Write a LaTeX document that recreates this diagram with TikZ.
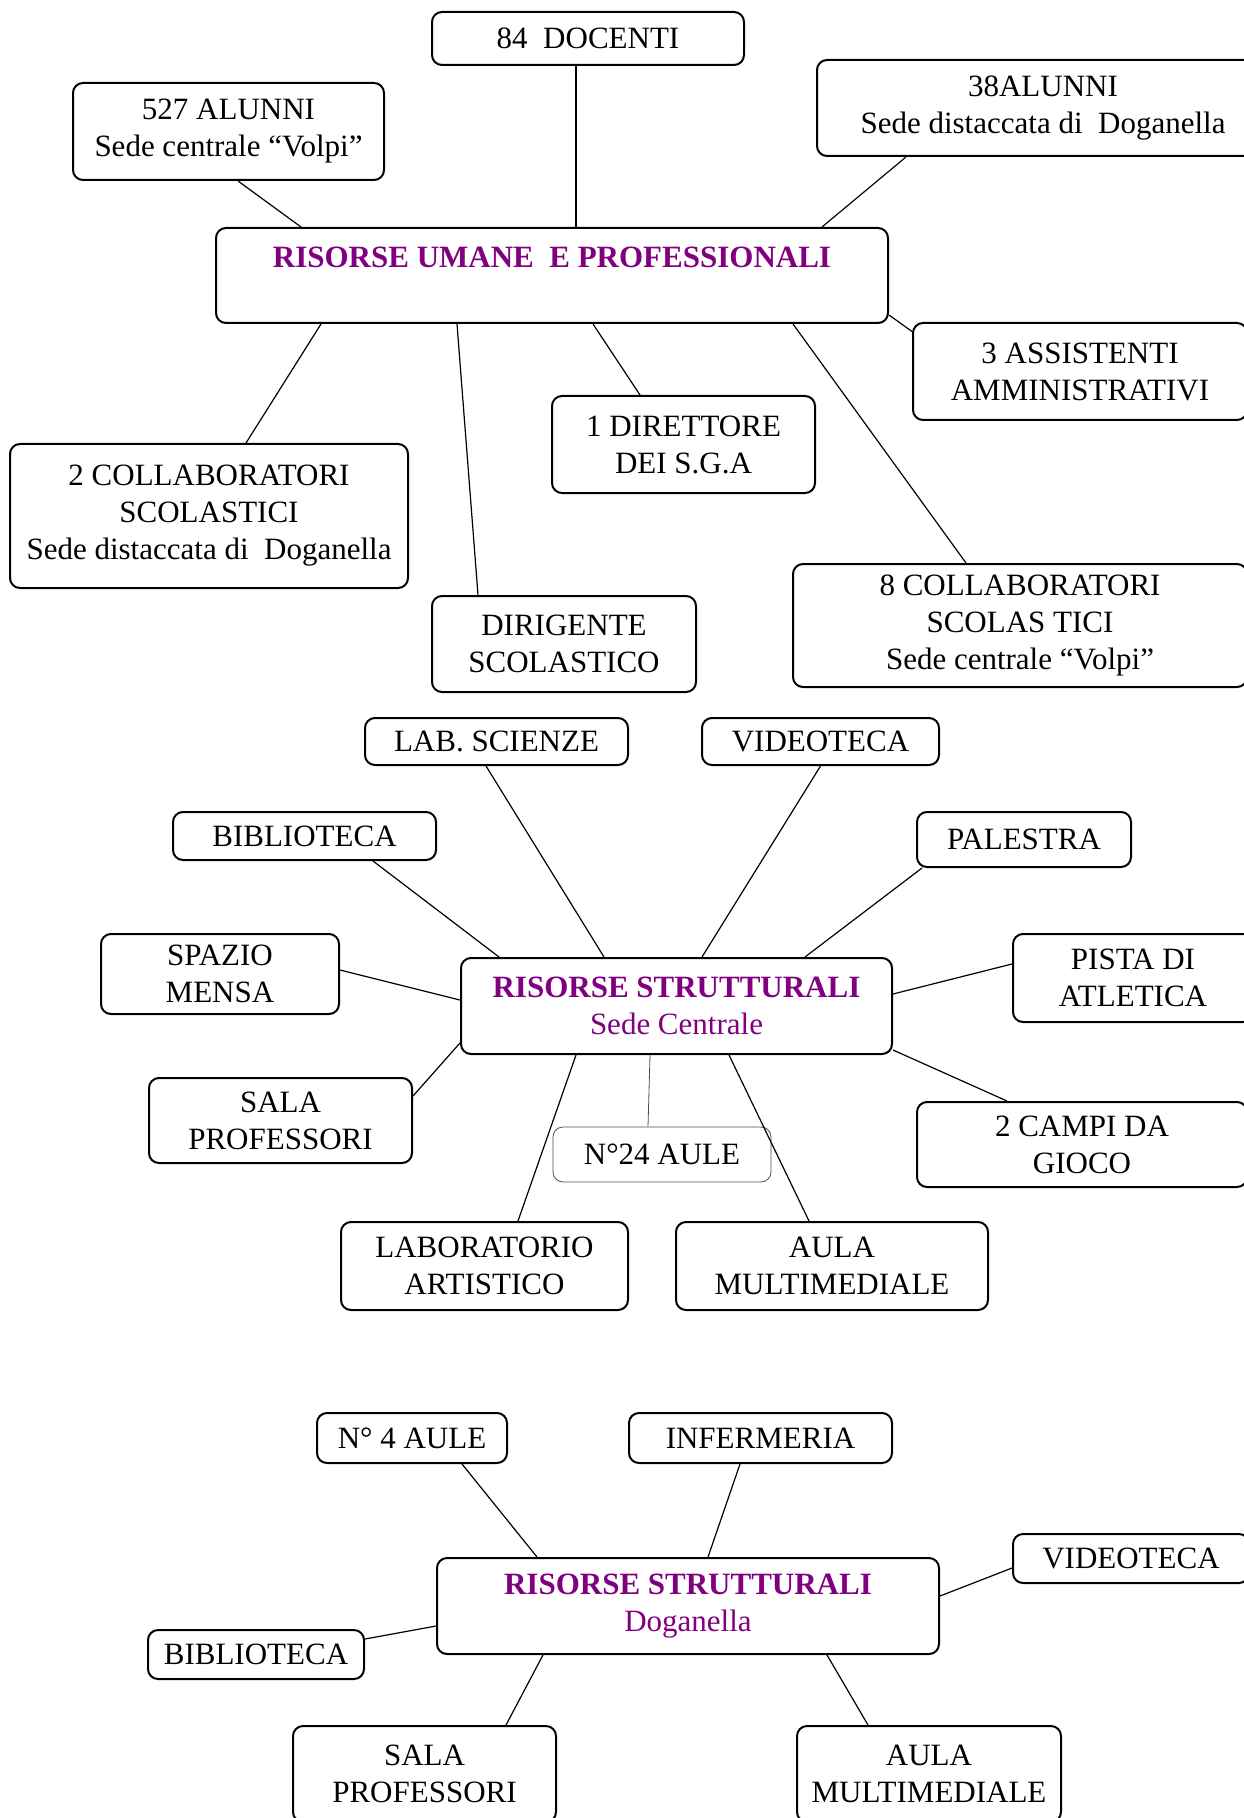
\documentclass[tikz,border=0pt]{standalone}
\usepackage{fontspec}
\setmainfont{Liberation Serif}
\usepackage{tikz}
\usetikzlibrary{shapes,backgrounds}
\definecolor{Plum}{RGB}{128,0,128}

\begin{document}
\begin{tikzpicture}[x=0.5pt, y=-0.5pt]
			\tikzstyle{Box}		= [draw, rounded corners=5pt, line width=1pt, inner sep=0pt, align=center, font=\fontsize{15.5}{18.5}\selectfont]
			\tikzstyle{Hub}		= [text=Plum]
			\tikzstyle{Thin}	= [line width=0.4pt, draw=black!70]
			\tikzstyle{Link}	= [line width=0.6pt]

			\useasboundingbox (0,0) rectangle (1243,1818);

			% risorse umane
			\node (rum) at (552, 275.5) [Box][Hub][minimum width=336pt, minimum height=47.5pt] {\textbf{RISORSE UMANE~~E PROFESSIONALI}\\\mbox{}};
			\node (doc) at (588, 38.5) [Box][minimum width=156pt, minimum height=26.5pt] {84~~DOCENTI};
			\node (alc) at (228.5, 131.5) [Box][minimum width=155.5pt, minimum height=48.5pt] {527 ALUNNI\\Sede centrale “Volpi”};
			\node (ald) at (1043, 108) [Box][minimum width=226pt, minimum height=48pt] {38ALUNNI\\Sede distaccata di~~Doganella};
			\node (ass) at (1080, 371.5) [Box][minimum width=167pt, minimum height=48.5pt] {3 ASSISTENTI\\AMMINISTRATIVI};
			\node (col2) at (209, 516) [Box][minimum width=199pt, minimum height=72pt] {2 COLLABORATORI\\SCOLASTICI\\Sede distaccata di~~Doganella};
			\node (dir) at (683.5, 444.5) [Box][minimum width=131.5pt, minimum height=48.5pt] {1 DIRETTORE\\DEI S.G.A};
			\node (dsc) at (564, 644) [Box][minimum width=132pt, minimum height=48pt] {DIRIGENTE\\SCOLASTICO};
			\node (col8) at (1020, 625.5) [Box][minimum width=227pt, minimum height=61.5pt] {8 COLLABORATORI\\SCOLAS TICI\\Sede centrale “Volpi”};

			\draw [-] ([shift={(-12,0)}]doc.south) to ([shift={(24,0)}]rum.north) [Link];
			\draw [-] ([shift={(9.5,0)}]alc.south) to ([shift={(-251,0)}]rum.north) [Link];
			\draw [-] ([shift={(-137,0)}]ald.south) to ([shift={(270,0)}]rum.north) [Link];
			\draw [-] ([shift={(0,39.5)}]rum.east) to ([shift={(0,-40)}]ass.west) [Link];
			\draw [-] ([shift={(-231,0)}]rum.south) to ([shift={(37,0)}]col2.north) [Link];
			\draw [-] ([shift={(41,0)}]rum.south) to ([shift={(-43.5,0)}]dir.north) [Link];
			\draw [-] ([shift={(-95,0)}]rum.south) to ([shift={(-86,0)}]dsc.north) [Link];
			\draw [-] ([shift={(241,0)}]rum.south) to ([shift={(-54,0)}]col8.north) [Link];

			% sede centrale
			\node (rsc) at (676.5, 1006) [Box][Hub][minimum width=215.5pt, minimum height=48pt] {\textbf{RISORSE STRUTTURALI}\\Sede Centrale};
			\node (lab) at (496.5, 741.5) [Box][minimum width=131.5pt, minimum height=23.5pt] {LAB. SCIENZE};
			\node (vid) at (820.5, 741.5) [Box][minimum width=118.5pt, minimum height=23.5pt] {VIDEOTECA};
			\node (bib) at (304.5, 836) [Box][minimum width=131.5pt, minimum height=24pt] {BIBLIOTECA};
			\node (pal) at (1024, 839.5) [Box][minimum width=107pt, minimum height=27.5pt] {PALESTRA};
			\node (spa) at (220, 974) [Box][minimum width=119pt, minimum height=40pt] {SPAZIO\\MENSA};
			\node (pis) at (1133, 978) [Box][minimum width=120pt, minimum height=44pt] {PISTA DI\\ATLETICA};
			\node (sal) at (280.5, 1120.5) [Box][minimum width=131.5pt, minimum height=42.5pt] {SALA\\PROFESSORI};
			\node (n24) at (662, 1154.5) [Box][Thin][minimum width=109pt, minimum height=27.5pt] {N°24 AULE};
			\node (cam) at (1082, 1144.5) [Box][minimum width=165pt, minimum height=42.5pt] {2 CAMPI DA\\GIOCO};
			\node (art) at (484.5, 1266) [Box][minimum width=143.5pt, minimum height=44pt] {LABORATORIO\\ARTISTICO};
			\node (mul) at (832, 1266) [Box][minimum width=156pt, minimum height=44pt] {AULA\\MULTIMEDIALE};

			\draw [-] ([shift={(-10.5,0)}]lab.south) to ([shift={(-72.5,0)}]rsc.north) [Link];
			\draw [-] (vid.south) to ([shift={(25.5,0)}]rsc.north) [Link];
			\draw [-] ([shift={(68.5,0)}]bib.south) to ([shift={(-177.5,0)}]rsc.north) [Link];
			\draw [-] ([shift={(6,0)}]pal.south west) to ([shift={(128.5,0)}]rsc.north) [Link];
			\draw [-] ([shift={(0,-4)}]spa.east) to ([shift={(0,-6)}]rsc.west) [Link];
			\draw [-] ([shift={(0,-14)}]pis.west) to ([shift={(0,-12)}]rsc.east) [Link];
			\draw [-] ([shift={(0,-24.5)}]sal.east) to ([shift={(0,37)}]rsc.west) [Link];
			\draw [-] ([shift={(-75,0)}]cam.north) to ([shift={(0,44)}]rsc.east) [Link];
			\draw [-] ([shift={(-14,0)}]n24.north) to ([shift={(-26.5,0)}]rsc.south) [Thin];
			\draw [-] ([shift={(33.5,0)}]art.north) to ([shift={(-100.5,0)}]rsc.south) [Link];
			\draw [-] ([shift={(-23,0)}]mul.north) to ([shift={(52.5,0)}]rsc.south) [Link];

			% doganella
			\node (rsd) at (688, 1606) [Box][Hub][minimum width=251pt, minimum height=48pt] {\textbf{RISORSE STRUTTURALI}\\Doganella};
			\node (n4) at (412, 1438) [Box][minimum width=95pt, minimum height=25pt] {N° 4 AULE};
			\node (inf) at (760.5, 1438) [Box][minimum width=131.5pt, minimum height=25pt] {INFERMERIA};
			\node (vid2) at (1131, 1558.5) [Box][minimum width=118pt, minimum height=24.5pt] {VIDEOTECA};
			\node (bib2) at (256, 1654.5) [Box][minimum width=108pt, minimum height=24.5pt] {BIBLIOTECA};
			\node (sal2) at (424.5, 1774) [Box][minimum width=131.5pt, minimum height=48pt] {SALA\\PROFESSORI};
			\node (mul2) at (929, 1774) [Box][minimum width=132pt, minimum height=48pt] {AULA\\MULTIMEDIALE};

			\draw [-] ([shift={(50,0)}]n4.south) to ([shift={(-151,0)}]rsd.north) [Link];
			\draw [-] ([shift={(-20.5,0)}]inf.south) to ([shift={(20,0)}]rsd.north) [Link];
			\draw [-] ([shift={(0,9.5)}]vid2.west) to ([shift={(0,-10)}]rsd.east) [Link];
			\draw [-] ([shift={(0,-15.5)}]bib2.east) to ([shift={(0,20)}]rsd.west) [Link];
			\draw [-] ([shift={(81.5,0)}]sal2.north) to ([shift={(-145,0)}]rsd.south) [Link];
			\draw [-] ([shift={(-61,0)}]mul2.north) to ([shift={(139,0)}]rsd.south) [Link];
\end{tikzpicture}
\end{document}
